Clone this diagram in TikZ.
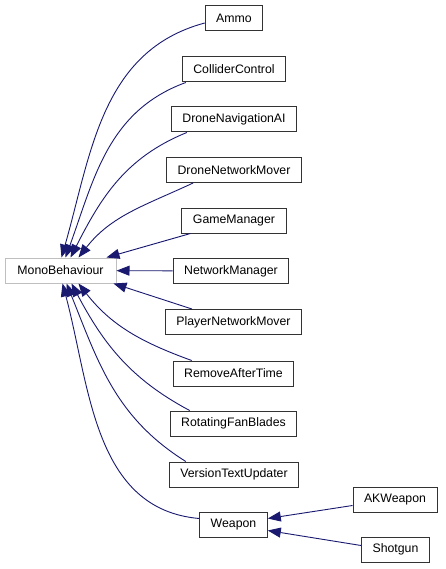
\documentclass[tikz,border=0pt]{standalone}
\usepackage{fontspec}
\setmainfont{Liberation Sans}
\usetikzlibrary{arrows.meta}
\definecolor{edgeblue}{HTML}{191970}
\definecolor{basegray}{HTML}{BFBFBF}
\tikzset{
  cls/.style={draw=black!80, fill=white, line width=1pt, minimum height=25pt, inner xsep=11pt, inner ysep=0pt},
  basecls/.style={cls, draw=basegray},
  inh/.style={draw=edgeblue, line width=0.9pt, -{Triangle[length=13pt, width=10pt]}}
}
\begin{document}
\begin{tikzpicture}[x=1pt, y=-1pt, font=\fontsize{12.3}{14}\selectfont]
  \useasboundingbox (0,0) rectangle (445,569);
  % classes
  \node[basecls, minimum width=111pt] (mono) at (60.5,270.5) {MonoBehaviour};
  \node[cls] (ammo) at (234,18) {Ammo};
  \node[cls] (collider) at (234,69.5) {ColliderControl};
  \node[cls] (dronenav) at (234,119.5) {DroneNavigationAI};
  \node[cls] (dronenet) at (234,170) {DroneNetworkMover};
  \node[cls] (game) at (234,220.5) {GameManager};
  \node[cls] (network) at (231,271) {NetworkManager};
  \node[cls] (player) at (233.5,322) {PlayerNetworkMover};
  \node[cls] (remove) at (233.5,373.5) {RemoveAfterTime};
  \node[cls] (fan) at (233.5,423.5) {RotatingFanBlades};
  \node[cls] (version) at (234,474.5) {VersionTextUpdater};
  \node[cls] (weapon) at (233.5,524.5) {Weapon};
  \node[cls] (ak) at (395,499.5) {AKWeapon};
  \node[cls] (shotgun) at (395.5,549.5) {Shotgun};
  % inheritance
  \draw[inh] ([yshift=-5pt]ammo.west) to[out=195, in=74] ([xshift=-55pt]mono.north east);
  \draw[inh] ([xshift=4pt]collider.south west) to[out=200, in=70] ([xshift=-51pt]mono.north east);
  \draw[inh] ([xshift=16pt]dronenav.south west) to[out=202, in=63] ([xshift=-46pt]mono.north east);
  \draw[inh] ([xshift=27pt]dronenet.south west) to[out=205, in=52] ([xshift=-38pt]mono.north east);
  \draw[inh] ([xshift=9pt]game.south west) -- ([xshift=-10pt]mono.north east);
  \draw[inh] (network) -- (mono);
  \draw[inh] ([xshift=27pt]player.north west) -- ([xshift=-3pt]mono.south east);
  \draw[inh] ([xshift=19pt]remove.north west) to[out=160, in=-52] ([xshift=-38pt]mono.south east);
  \draw[inh] ([xshift=20pt]fan.north west) to[out=152, in=-62] ([xshift=-45pt]mono.south east);
  \draw[inh] ([xshift=17pt]version.north west) to[out=148, in=-68] ([xshift=-50pt]mono.south east);
  \draw[inh] ([yshift=6pt]weapon.west) to[out=175, in=-75] ([xshift=-54pt]mono.south east);
  \draw[inh] ([yshift=-6pt]ak.west) -- ([yshift=6pt]weapon.east);
  \draw[inh] ([yshift=4pt]shotgun.west) -- ([yshift=-6pt]weapon.east);
\end{tikzpicture}
\end{document}
